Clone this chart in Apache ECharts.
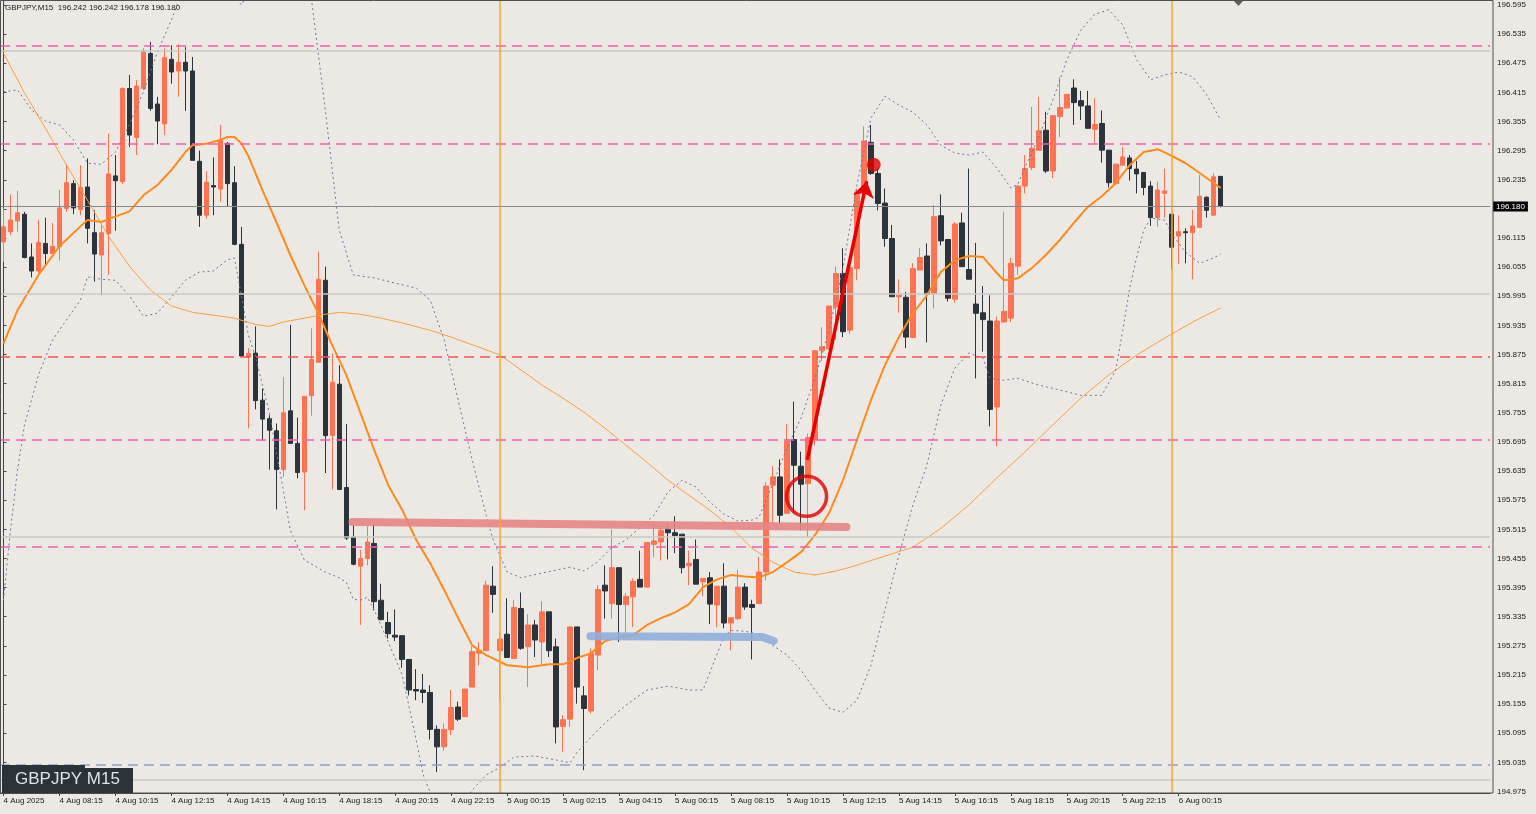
<!DOCTYPE html>
<html><head><meta charset="utf-8">
<script src="https://cdn.jsdelivr.net/npm/echarts@6/dist/echarts.min.js"></script>
<style>html,body{margin:0;padding:0;background:#ECE9E5;}#c{width:1536px;height:814px;}</style>
</head><body><div id="c"></div>
<script>
const tickLabels = ['4 Aug 2025','4 Aug 08:15','4 Aug 10:15','4 Aug 12:15','4 Aug 14:15','4 Aug 16:15','4 Aug 18:15','4 Aug 20:15','4 Aug 22:15','5 Aug 00:15','5 Aug 02:15','5 Aug 04:15','5 Aug 06:15','5 Aug 08:15','5 Aug 10:15','5 Aug 12:15','5 Aug 14:15','5 Aug 16:15','5 Aug 18:15','5 Aug 20:15','5 Aug 22:15','6 Aug 00:15'];
const priceTicks = [194.975,195.035,195.095,195.155,195.215,195.275,195.335,195.395,195.455,195.515,195.575,195.635,195.695,195.755,195.815,195.875,195.935,195.995,196.055,196.115,196.175,196.235,196.295,196.355,196.415,196.475,196.535,196.595];
// [open, close, low, high]
const ohlc = [
[196.107,196.138,196.066,196.176],[196.128,196.152,196.121,196.205],[196.150,196.167,196.128,196.212],[196.164,196.075,196.073,196.169],
[196.076,196.047,196.034,196.104],[196.047,196.106,196.042,196.152],[196.104,196.083,196.059,196.157],[196.083,196.098,196.082,196.146],
[196.097,196.177,196.069,196.214],[196.176,196.229,196.169,196.267],[196.227,196.177,196.164,196.234],[196.174,196.219,196.162,196.265],
[196.220,196.135,196.104,196.279],[196.126,196.082,196.025,196.172],[196.080,196.126,195.997,196.142],[196.124,196.247,196.039,196.330],
[196.243,196.233,196.130,196.286],[196.231,196.423,196.226,196.426],[196.423,196.327,196.303,196.451],[196.322,196.428,196.286,196.440],
[196.423,196.500,196.420,196.506],[196.495,196.382,196.377,196.519],[196.391,196.356,196.308,196.406],[196.350,196.487,196.327,196.506],
[196.483,196.457,196.433,196.512],[196.459,196.477,196.406,196.514],[196.477,196.459,196.377,196.508],[196.459,196.275,196.275,196.488],
[196.273,196.162,196.138,196.295],[196.162,196.230,196.155,196.253],[196.223,196.220,196.162,196.281],[196.216,196.317,196.190,196.348],
[196.310,196.227,196.179,196.313],[196.229,196.102,196.100,196.263],[196.102,195.872,195.870,196.138],[195.870,195.877,195.723,195.888],
[195.878,195.780,195.762,195.933],[195.781,195.742,195.697,195.805],[195.743,195.719,195.638,195.750],[195.718,195.638,195.556,195.733],
[195.638,195.755,195.623,195.829],[195.759,195.692,195.692,195.936],[195.692,195.632,195.620,195.745],[195.633,195.789,195.554,195.789],
[195.790,195.865,195.749,195.929],[195.859,196.030,195.859,196.087],[196.028,195.708,195.631,196.056],[195.708,195.818,195.597,195.877],
[195.814,195.597,195.597,195.853],[195.601,195.497,195.493,195.732],[195.499,195.443,195.441,195.524],[195.439,195.455,195.318,195.473],
[195.455,195.489,195.441,195.521],[195.486,195.366,195.348,195.524],[195.369,195.329,195.328,195.403],[195.323,195.300,195.290,195.345],
[195.297,195.293,195.285,195.350],[195.296,195.247,195.230,195.296],[195.247,195.184,195.173,195.247],[195.185,195.182,195.163,195.227],
[195.184,195.179,195.157,195.217],[195.179,195.103,195.082,195.194],[195.103,195.067,195.015,195.111],[195.067,195.103,195.059,195.115],
[195.102,195.148,195.091,195.184],[195.149,195.124,195.120,195.160],[195.129,195.186,195.129,195.186],[195.190,195.263,195.190,195.274],
[195.260,195.266,195.235,195.283],[195.265,195.400,195.265,195.409],[195.398,195.381,195.343,195.439],[195.265,195.289,195.163,195.304],
[195.299,195.251,195.251,195.373],[195.249,195.354,195.249,195.370],[195.352,195.270,195.267,195.385],[195.273,195.318,195.190,195.340],
[195.318,195.287,195.252,195.328],[195.283,195.345,195.235,195.367],[195.345,195.265,195.252,195.345],[195.273,195.108,195.074,195.290],
[195.109,195.123,195.057,195.132],[195.124,195.314,195.108,195.314],[195.314,195.190,195.156,195.314],[195.172,195.146,195.019,195.192],
[195.141,195.259,195.136,195.270],[195.256,195.391,195.225,195.400],[195.400,195.388,195.331,195.441],[195.362,195.436,195.331,195.515],
[195.436,195.360,195.283,195.436],[195.360,195.377,195.300,195.384],[195.376,195.408,195.314,195.414],[195.412,195.396,195.396,195.471],
[195.396,195.488,195.396,195.488],[195.484,195.491,195.457,195.528],[195.489,195.513,195.451,195.517],[195.515,195.508,195.453,195.527],
[195.508,195.502,195.466,195.542],[195.505,195.436,195.424,195.505],[195.440,195.445,195.400,195.471],[195.453,195.402,195.402,195.494],
[195.407,195.414,195.377,195.414],[195.415,195.361,195.320,195.427],[195.359,195.398,195.313,195.398],[195.398,195.322,195.311,195.445],
[195.322,195.333,195.266,195.333],[195.331,195.396,195.328,195.432],[195.396,195.355,195.349,195.404],[195.360,195.354,195.247,195.370],
[195.362,195.427,195.362,195.458],[195.427,195.604,195.410,195.612],[195.606,195.623,195.527,195.645],[195.623,195.544,195.527,195.659],
[195.548,195.697,195.548,195.732],[195.700,195.647,195.548,195.778],[195.645,195.608,195.513,195.675],[195.609,195.704,195.499,195.712],
[195.699,195.883,195.688,195.884],[195.883,195.891,195.862,195.931],[195.887,195.975,195.885,195.975],[195.973,196.042,195.905,196.056],
[196.042,195.922,195.911,196.094],[195.925,196.054,195.918,196.054],[196.052,196.210,196.028,196.217],[196.210,196.315,196.210,196.345],
[196.312,196.248,196.245,196.348],[196.248,196.186,196.172,196.258],[196.187,196.114,196.097,196.217],[196.114,195.994,195.994,196.142],
[195.994,195.997,195.961,196.030],[195.993,195.911,195.888,196.004],[195.910,196.052,195.910,196.063],[196.049,196.075,196.049,196.094],
[196.078,195.999,195.900,196.104],[196.001,196.159,195.970,196.183],[196.161,196.109,196.100,196.205],[196.112,195.991,195.984,196.112],
[195.989,196.144,195.982,196.148],[196.146,196.056,196.056,196.167],[196.050,196.030,196.030,196.258],[195.979,195.960,195.826,196.105],
[195.961,195.947,195.881,196.016],[195.944,195.762,195.727,195.997],[195.767,195.944,195.686,195.953],[195.942,195.964,195.942,196.169],
[195.950,196.063,195.942,196.074],[196.057,196.222,196.039,196.224],[196.222,196.258,196.207,196.286],[196.260,196.300,196.255,196.385],
[196.296,196.336,196.296,196.406],[196.337,196.253,196.249,196.375],[196.253,196.367,196.238,196.367],[196.365,196.384,196.323,196.446],
[196.383,196.411,196.382,196.411],[196.424,196.394,196.348,196.442],[196.398,196.387,196.358,196.418],[196.387,196.341,196.341,196.418],
[196.339,196.349,196.311,196.403],[196.351,196.296,196.270,196.378],[196.296,196.229,196.219,196.296],[196.227,196.267,196.224,196.269],
[196.265,196.282,196.265,196.303],[196.280,196.258,196.233,196.286],[196.257,196.247,196.207,196.274],[196.250,196.219,196.203,196.250],
[196.222,196.157,196.140,196.232],[196.157,196.214,196.138,196.231],[196.207,196.212,196.157,196.258],[196.164,196.096,196.050,196.164],
[196.119,196.128,196.061,196.162],[196.128,196.126,196.063,196.135],[196.126,196.140,196.030,196.173],[196.137,196.201,196.137,196.245],
[196.199,196.172,196.157,196.201],[196.162,196.241,196.162,196.248],[196.242,196.180,196.178,196.242]
];
// indicator lines: [candle index, price]
const bbMiddle = [[0,195.898],[2,195.966],[5,196.039],[8,196.098],[11,196.139],[12,196.152],[14,196.148],[15,196.154],[18,196.170],[20,196.203],[22,196.224],[24,196.255],[26,196.292],[27,196.306],[29,196.309],[31,196.317],[32,196.323],[33,196.323],[34,196.310],[35,196.284],[37,196.214],[39,196.148],[41,196.080],[43,196.018],[45,195.960],[47,195.894],[49,195.833],[51,195.756],[53,195.678],[55,195.606],[57,195.555],[59,195.493],[61,195.445],[63,195.390],[65,195.332],[67,195.276],[69,195.256],[72,195.235],[75,195.231],[78,195.237],[80,195.237],[82,195.250],[84,195.260],[86,195.285],[88,195.293],[90,195.297],[92,195.318],[94,195.332],[96,195.344],[98,195.361],[100,195.396],[102,195.412],[104,195.421],[106,195.418],[108,195.416],[110,195.427],[112,195.447],[114,195.468],[116,195.503],[118,195.548],[120,195.616],[122,195.699],[124,195.781],[126,195.853],[128,195.911],[130,195.960],[132,195.997],[134,196.045],[136,196.069],[138,196.078],[140,196.076],[142,196.043],[143,196.028],[145,196.032],[147,196.053],[149,196.080],[151,196.111],[153,196.146],[155,196.179],[157,196.201],[159,196.228],[161,196.265],[163,196.292],[165,196.298],[167,196.284],[169,196.269],[171,196.249],[174,196.218]];
const slowMA = [[0,196.496],[3,196.414],[6,196.341],[9,196.265],[12,196.193],[15,196.119],[18,196.057],[21,196.008],[24,195.975],[27,195.962],[30,195.956],[33,195.950],[36,195.937],[38,195.933],[40,195.942],[43,195.950],[46,195.958],[48,195.962],[51,195.958],[54,195.950],[57,195.940],[61,195.925],[64,195.911],[68,195.890],[71,195.874],[74,195.843],[77,195.812],[80,195.785],[83,195.756],[86,195.723],[89,195.688],[92,195.653],[95,195.616],[98,195.585],[101,195.554],[104,195.519],[107,195.476],[110,195.447],[113,195.427],[116,195.421],[119,195.429],[122,195.441],[126,195.460],[130,195.478],[134,195.517],[138,195.565],[142,195.621],[146,195.674],[150,195.730],[154,195.785],[158,195.833],[162,195.874],[166,195.909],[170,195.942],[174,195.971]];
const bbUpper = [[0,196.416],[2,196.420],[4,196.379],[6,196.356],[8,196.348],[10,196.317],[12,196.269],[14,196.267],[16,196.292],[17,196.321],[18,196.348],[20,196.416],[22,196.498],[24,196.564],[26,196.640],[28,196.680],[30,196.690],[32,196.650],[33,196.615],[34,196.595],[35,196.620],[37,196.750],[40,196.800],[42,196.720],[44,196.610],[46,196.379],[48,196.131],[50,196.039],[53,196.033],[56,196.022],[59,196.012],[61,195.987],[63,195.905],[65,195.781],[67,195.658],[69,195.544],[70,195.493],[72,195.427],[74,195.415],[77,195.425],[79,195.431],[81,195.437],[83,195.429],[85,195.449],[87,195.478],[89,195.493],[91,195.519],[93,195.544],[95,195.592],[97,195.616],[99,195.602],[101,195.571],[103,195.546],[105,195.532],[107,195.534],[108,195.540],[110,195.610],[112,195.682],[114,195.744],[116,195.826],[118,195.925],[120,196.053],[122,196.224],[124,196.362],[126,196.407],[128,196.389],[130,196.374],[132,196.348],[134,196.306],[136,196.290],[138,196.286],[140,196.292],[142,196.259],[143,196.239],[144,196.218],[145,196.226],[146,196.259],[148,196.323],[150,196.399],[152,196.482],[154,196.543],[156,196.576],[158,196.585],[160,196.554],[162,196.482],[164,196.441],[166,196.451],[168,196.457],[170,196.447],[172,196.410],[174,196.358]];
const bbLower = [[0,195.369],[1,195.513],[2,195.637],[3,195.730],[5,195.833],[7,195.905],[9,195.946],[11,195.987],[12,196.035],[14,196.030],[16,196.028],[18,195.996],[20,195.954],[22,195.960],[24,195.993],[26,196.028],[28,196.045],[30,196.047],[32,196.070],[33,196.074],[34,195.998],[35,195.915],[36,195.872],[38,195.755],[40,195.596],[41,195.513],[43,195.452],[46,195.427],[48,195.415],[49,195.406],[50,195.371],[51,195.369],[52,195.375],[53,195.349],[55,195.283],[57,195.215],[59,195.081],[60,195.009],[62,194.937],[64,194.930],[66,194.955],[67,194.978],[69,195.009],[71,195.025],[73,195.046],[76,195.048],[79,195.040],[81,195.034],[82,195.056],[84,195.087],[86,195.116],[89,195.153],[92,195.184],[95,195.192],[98,195.184],[100,195.184],[101,195.221],[103,195.295],[104,195.307],[106,195.305],[108,195.299],[110,195.276],[112,195.256],[114,195.225],[116,195.184],[118,195.147],[120,195.138],[122,195.163],[124,195.235],[126,195.349],[128,195.462],[130,195.565],[132,195.647],[134,195.771],[136,195.847],[138,195.878],[140,195.868],[141,195.826],[143,195.822],[145,195.826],[148,195.812],[151,195.802],[154,195.791],[157,195.791],[159,195.843],[160,195.925],[161,196.012],[162,196.076],[163,196.131],[164,196.156],[166,196.152],[167,196.123],[169,196.086],[171,196.063],[173,196.074],[174,196.082]];
const pinkLevels = [196.509, 196.314, 195.700, 195.479];
const redLevel = 195.871;
const blueLevel = 195.025;
const roundLevels = [196.500, 196.000, 195.500, 195.000];
const lastPrice = 196.180;
const daySeparators = [71, 167];
const resistanceZone = [[49.9,195.530],[120.5,195.520]];
const supportZone = [[83.9,195.295],[108.5,195.293],[110.1,195.285]];
const arrowPath = [[114.9,195.658],[123.4,196.232]];
const circleMark = [114.8,195.583];
const targetDot = [124.4,196.266];
const TOTAL_SLOTS = 213;

const slots = [];
for (let i = 0; i < TOTAL_SLOTS; i++) slots.push(String(i));
const FONT = 'Liberation Sans';

const chart = echarts.init(document.getElementById('c'), null, {renderer:'canvas'});
const bandLine = (data, color, width, type, z) => ({
  type:'line', xAxisIndex:1, yAxisIndex:0, data, showSymbol:false, symbol:'none', silent:true,
  lineStyle:{color, width, type}, z, animation:false
});
const option = {
  backgroundColor:'#ECE9E5',
  animation:false,
  grid:{left:-1, right:46, top:1, bottom:21, containLabel:false},
  xAxis:[{
    type:'category', data:slots, boundaryGap:true,
    axisLine:{show:true, lineStyle:{color:'#444', width:1}},
    axisTick:{show:true, alignWithLabel:true, length:3, lineStyle:{color:'#444'},
      interval:(idx)=> idx % 8 === 0 && idx/8 < tickLabels.length},
    axisLabel:{show:true, align:'left', margin:4, fontSize:8, fontFamily:FONT, color:'#1a1a1a',
      interval:(idx)=> idx % 8 === 0 && idx/8 < tickLabels.length,
      formatter:(v, idx)=> tickLabels[idx/8] || ''},
    splitLine:{show:false}
  },{
    type:'value', min:-0.5, max:TOTAL_SLOTS-0.5, show:false
  }],
  yAxis:[{
    type:'value', position:'right', offset:3, min:194.9719, max:196.6032, scale:true,
    axisLine:{show:true, lineStyle:{color:'#444'}},
    axisTick:{show:true, length:3, lineStyle:{color:'#444'}, customValues:priceTicks},
    axisLabel:{show:true, margin:4, fontSize:8, fontFamily:FONT, color:'#1a1a1a',
      customValues:priceTicks, formatter:(v)=> v.toFixed(3)},
    splitLine:{show:false}
  }],
  series:[
    {
      type:'line', xAxisIndex:0, data:[], z:1, silent:true,
      markLine:{silent:true, symbol:'none', animation:false, label:{show:false},
        data:[
          ...roundLevels.map(v=>({yAxis:v, lineStyle:{color:'#CAC8C5', width:1.5, type:'solid', opacity:1}})),
          ...pinkLevels.map(v=>({yAxis:v, lineStyle:{color:'#F060B0', width:1.6, type:[10,6], opacity:1}})),
          {yAxis:redLevel, lineStyle:{color:'#F25555', width:1.6, type:[10,6], opacity:1}},
          {yAxis:blueLevel, lineStyle:{color:'#86A3CC', width:1.6, type:[10,6], opacity:1}},
          ...daySeparators.map(v=>({xAxis:v, lineStyle:{color:'#FFA530', width:1.5, type:'solid', opacity:1}}))
        ]}
    },
    {
      type:'candlestick', xAxisIndex:0, yAxisIndex:0, data:ohlc, barWidth:5, z:2,
      itemStyle:{color:'#FF7352', color0:'#2B333B', borderColor:'#FF7352', borderColor0:'#2B333B', borderWidth:1},
      markLine:{silent:true, symbol:'none', animation:false,
        data:[{yAxis:lastPrice, lineStyle:{color:'#8A8A8A', width:1, type:'solid'},
          label:{show:true, position:'end', distance:3, formatter:lastPrice.toFixed(3), color:'#ffffff',
            backgroundColor:'#000000', padding:[1,3,1,3], fontSize:8, fontFamily:FONT}}]}
    },
    bandLine(slowMA, '#FFA040', 1, 'solid', 3),
    bandLine(bbUpper, '#74719A', 1, [2,3], 3),
    bandLine(bbLower, '#74719A', 1, [2,3], 3),
    bandLine(bbMiddle, '#FF8A1E', 2, 'solid', 3),
    {
      type:'line', xAxisIndex:1, data:resistanceZone, showSymbol:false, symbol:'none', silent:true, z:4,
      lineStyle:{color:'#E58585', width:8, cap:'round', opacity:0.9}
    },
    {
      type:'line', xAxisIndex:1, data:supportZone, showSymbol:false, symbol:'none', silent:true, z:4,
      lineStyle:{color:'#8FAEDC', width:8, cap:'round', opacity:0.9}
    },
    {
      type:'lines', coordinateSystem:'cartesian2d', xAxisIndex:1, yAxisIndex:0, z:5, silent:true,
      symbol:['none','arrow'], symbolSize:[0,16],
      lineStyle:{color:'#E60000', width:3.5, opacity:1, curveness:0},
      data:[{coords:arrowPath}]
    },
    {
      type:'scatter', xAxisIndex:1, yAxisIndex:0, data:[circleMark], symbol:'circle', symbolSize:40, z:5, silent:true,
      itemStyle:{color:'rgba(0,0,0,0)', borderColor:'#E00000', borderWidth:3.5}
    },
    {
      type:'scatter', xAxisIndex:1, yAxisIndex:0, data:[targetDot], symbol:'circle', symbolSize:14, z:5, silent:true,
      itemStyle:{color:'#E00000'}
    }
  ],
  graphic:[
    {type:'rect', shape:{x:0.5, y:0.5, width:1492.5, height:792.5}, style:{fill:null, stroke:'#505050', lineWidth:1}, z:10, silent:true},
    {type:'text', x:5, y:4, style:{text:'GBPJPY,M15  196.242 196.242 196.178 196.180', fill:'#1a1a1a', font:'8px "Liberation Sans"'}, z:10},
    {type:'polygon', shape:{points:[[1234,1],[1243,1],[1238.5,6]]}, style:{fill:'#606060'}, z:10},
    {type:'rect', shape:{x:2, y:765, width:83, height:3}, style:{fill:'#2B3339'}, z:10},
    {type:'rect', shape:{x:2, y:768, width:131, height:25}, style:{fill:'#2B3339'}, z:10},
    {type:'text', x:15, y:771, style:{text:'GBPJPY M15', fill:'#DDE2E6', font:'17px "Liberation Sans"'}, z:11}
  ]
};
chart.setOption(option);
</script>
</body></html>
